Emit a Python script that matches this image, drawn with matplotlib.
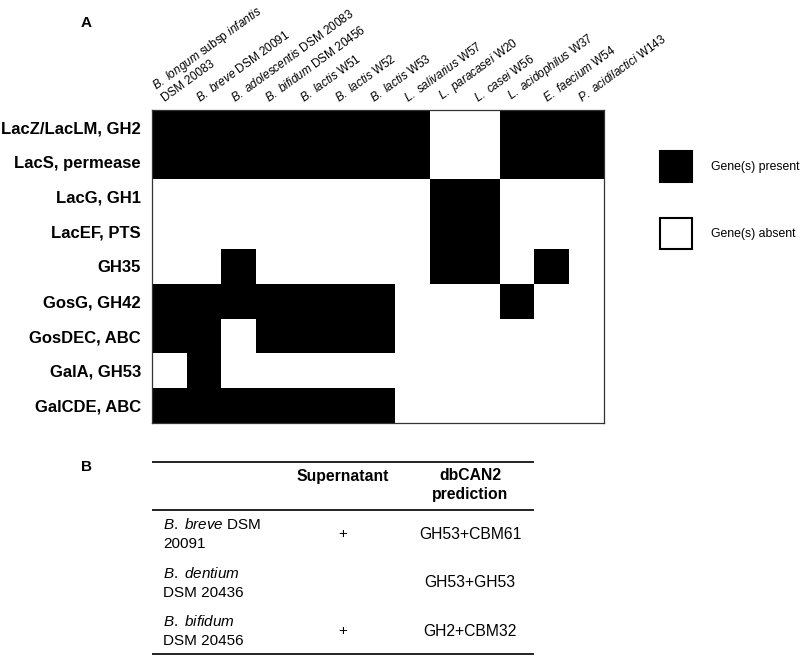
import numpy as np
import matplotlib
matplotlib.use("Agg")
import matplotlib.pyplot as plt
from matplotlib.colors import ListedColormap
from matplotlib.patches import Rectangle
from matplotlib.lines import Line2D

plt.rcParams["font.family"] = ["Liberation Sans", "DejaVu Sans"]
plt.rcParams["mathtext.fontset"] = "custom"
plt.rcParams["mathtext.rm"] = "Liberation Sans"
plt.rcParams["mathtext.it"] = "Liberation Sans:italic"
plt.rcParams["mathtext.bf"] = "Liberation Sans:bold"

# panel A data
strains = [
    r"$\mathit{B.\ longum}$ subsp $\mathit{infantis}$" + "\nDSM 20083",
    r"$\mathit{B.\ breve}$ DSM 20091",
    r"$\mathit{B.\ adolescentis}$ DSM 20083",
    r"$\mathit{B.\ bifidum}$ DSM 20456",
    r"$\mathit{B.\ lactis}$ W51",
    r"$\mathit{B.\ lactis}$ W52",
    r"$\mathit{B.\ lactis}$ W53",
    r"$\mathit{L.\ salivarius}$ W57",
    r"$\mathit{L.\ paracasei}$ W20",
    r"$\mathit{L.\ casei}$ W56",
    r"$\mathit{L.\ acidophilus}$ W37",
    r"$\mathit{E.\ faecium}$ W54",
    r"$\mathit{P.\ acidilactici}$ W143",
]
genes = [
    "LacZ/LacLM, GH2",
    "LacS, permease",
    "LacG, GH1",
    "LacEF, PTS",
    "GH35",
    "GosG, GH42",
    "GosDEC, ABC",
    "GalA, GH53",
    "GalCDE, ABC",
]
presence = np.array([
    [1, 1, 1, 1, 1, 1, 1, 1, 0, 0, 1, 1, 1],
    [1, 1, 1, 1, 1, 1, 1, 1, 0, 0, 1, 1, 1],
    [0, 0, 0, 0, 0, 0, 0, 0, 1, 1, 0, 0, 0],
    [0, 0, 0, 0, 0, 0, 0, 0, 1, 1, 0, 0, 0],
    [0, 0, 1, 0, 0, 0, 0, 0, 1, 1, 0, 1, 0],
    [1, 1, 1, 1, 1, 1, 1, 0, 0, 0, 1, 0, 0],
    [1, 1, 0, 1, 1, 1, 1, 0, 0, 0, 0, 0, 0],
    [0, 1, 0, 0, 0, 0, 0, 0, 0, 0, 0, 0, 0],
    [1, 1, 1, 1, 1, 1, 1, 0, 0, 0, 0, 0, 0],
])
legend_labels = ["Gene(s) present", "Gene(s) absent"]

# panel B data
tab_header = ["Supernatant", "dbCAN2\nprediction"]
tab_strains = [
    r"$\mathit{B.\ breve}$ DSM" + "\n20091",
    r"$\mathit{B.\ dentium}$" + "\nDSM 20436",
    r"$\mathit{B.\ bifidum}$" + "\nDSM 20456",
]
tab_supernatant = ["+", "", "+"]
tab_prediction = ["GH53+CBM61", "GH53+GH53", "GH2+CBM32"]

W, H = 800, 657
fig = plt.figure(figsize=(W / 100, H / 100), dpi=100)


def fx(px):
    return px / W


def fy(py):
    return 1 - py / H


ax = fig.add_axes([fx(152), fy(423), fx(604) - fx(152), fy(110) - fy(423)])
ax.imshow(presence, cmap=ListedColormap(["white", "black"]), aspect="auto",
          interpolation="nearest", vmin=0, vmax=1)
ax.set_xticks([])
ax.set_yticks(range(len(genes)))
ax.set_yticklabels(genes, fontsize=12, fontweight="bold")
ax.tick_params(axis="y", length=0, pad=8)
for s in ax.spines.values():
    s.set_linewidth(0.9)
    s.set_color("#333333")

for i, lab in enumerate(strains):
    ax.text(i - 0.08, -0.66, lab, rotation=36, rotation_mode="anchor",
            ha="left", va="bottom", fontsize=8.5, linespacing=1.05)

fig.text(fx(86), fy(23), "A", fontsize=11, fontweight="bold", ha="center", va="center")
fig.text(fx(86), fy(467), "B", fontsize=11, fontweight="bold", ha="center", va="center")

# legend
for k, lab in enumerate(legend_labels):
    top = 151 + k * 67
    fig.add_artist(Rectangle((fx(660), fy(top + 31)), fx(692) - fx(660), fy(top) - fy(top + 31),
                             transform=fig.transFigure, facecolor="black" if k == 0 else "white",
                             edgecolor="black", linewidth=1.5))
    fig.text(fx(711), fy(top + 16), lab, fontsize=8.8, ha="left", va="center")

# table
tx0, tx1 = 153, 533
for yl in (462, 510, 654):
    fig.add_artist(Line2D([fx(tx0), fx(tx1)], [fy(yl), fy(yl)], color="#222222",
                          linewidth=1.4, transform=fig.transFigure))
col_x = [343, 470]
fig.text(fx(col_x[0]), fy(477), tab_header[0], fontsize=11.3, fontweight="bold",
         ha="center", va="center")
fig.text(fx(col_x[1]), fy(468), tab_header[1], fontsize=11.3, fontweight="bold",
         ha="center", va="top", linespacing=1.35)
row_h = 48.5
for i in range(len(tab_strains)):
    yc = 510 + (i + 0.5) * row_h
    fig.text(fx(163), fy(yc), tab_strains[i], fontsize=11, ha="left", va="center",
             linespacing=1.45)
    fig.text(fx(col_x[0]), fy(yc), tab_supernatant[i], fontsize=11, ha="center", va="center")
    fig.text(fx(col_x[1]), fy(yc), tab_prediction[i], fontsize=11.3, ha="center", va="center")

fig.savefig("out.png", dpi=100)
